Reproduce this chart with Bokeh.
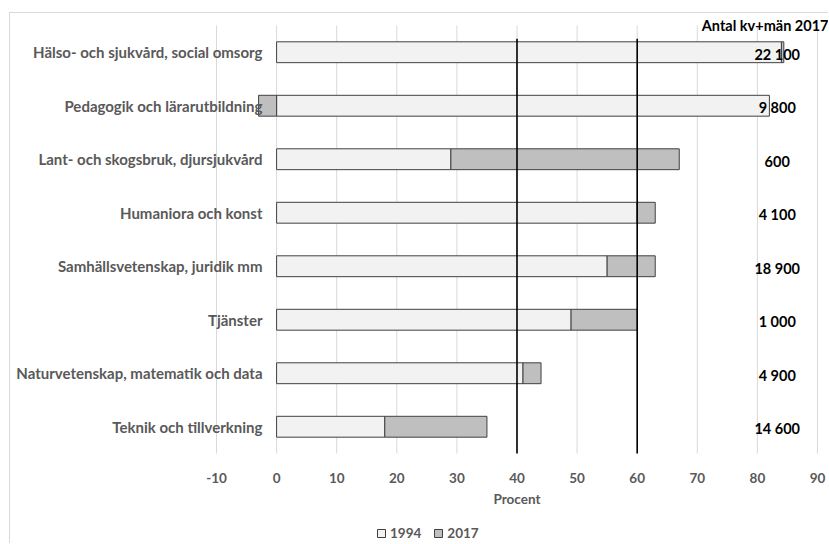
from bokeh.plotting import figure
from bokeh.models import ColumnDataSource, FixedTicker, Legend, LegendItem, Range1d
from bokeh.embed import file_html
from bokeh.resources import INLINE
from bokeh.core.properties import value

# ---- data ----
categories = [
    "Hälso- och sjukvård, social omsorg",
    "Pedagogik och lärarutbildning",
    "Lant- och skogsbruk, djursjukvård",
    "Humaniora och konst",
    "Samhällsvetenskap, juridik mm",
    "Tjänster",
    "Naturvetenskap, matematik och data",
    "Teknik och tillverkning",
]
share_1994 = [84, 82, 29, 60, 55, 49, 41, 18]          # procent 1994
change_2017 = [0.4, -3, 38, 3, 8, 11, 3, 17]            # förändring till 2017
count_2017 = ["22 100", "9 800", "600", "4 100", "18 900", "1 000", "4 900", "14 600"]
ref_lines = [40, 60]
x_ticks = [-10, 0, 10, 20, 30, 40, 50, 60, 70, 80, 90]
x_tick_labels = [str(t) for t in x_ticks]
x_title = "Procent"
header = "Antal kv+män 2017"
series_names = ["1994", "2017"]

FONT = "Lato"
GRAY = "#595959"

n = len(categories)
ypos = [n - 0.5 - i for i in range(n)]
left17 = [s if c >= 0 else c for s, c in zip(share_1994, change_2017)]
right17 = [s + c if c >= 0 else 0 for s, c in zip(share_1994, change_2017)]

src = ColumnDataSource(dict(y=ypos, v94=share_1994, l17=left17, r17=right17,
                            count=count_2017))

# frame spans the whole drawing area; value axis is drawn inside it
p = figure(width=819, height=531,
           x_range=Range1d(-13.33, 92.0), y_range=Range1d(-1.701, n + 0.224),
           output_backend="svg", toolbar_location=None, x_axis_location=None,
           min_border_left=186, min_border_right=0, min_border_top=0,
           min_border_bottom=0)
p.styles = {"border-left": "1px solid #D9D9D9", "border-top": "1px solid #D9D9D9",
            "margin-top": "12px", "margin-left": "9px"}
p.outline_line_color = None
p.background_fill_color = "white"
p.border_fill_color = "white"
p.xgrid.visible = False
p.ygrid.visible = False

ya = p.yaxis[0]
ya.ticker = FixedTicker(ticks=ypos)
ya.major_label_overrides = {y: c for y, c in zip(ypos, categories)}
ya.axis_line_color = None
ya.major_tick_line_color = None
ya.minor_tick_line_color = None
ya.major_label_text_font = FONT
ya.major_label_text_font_style = "bold"
ya.major_label_text_font_size = "15px"
ya.major_label_text_color = GRAY
ya.major_label_standoff = -72

# vertical grid lines at the value ticks
p.segment(x0=x_ticks, y0=[0] * len(x_ticks), x1=x_ticks, y1=[n] * len(x_ticks),
          line_color="#D9D9D9", line_width=1)

bar_h = 0.39
r94 = p.hbar(y="y", left=0, right="v94", height=bar_h, source=src,
             fill_color="#F2F2F2", line_color="#404040", line_width=1)
r17 = p.hbar(y="y", left="l17", right="r17", height=bar_h, source=src,
             fill_color="#BFBFBF", line_color="#404040", line_width=1)

p.segment(x0=ref_lines, y0=[0] * len(ref_lines), x1=ref_lines,
          y1=[n - 0.25] * len(ref_lines), line_color="black", line_width=1.6)

# value-axis tick labels and title
p.text(x=x_ticks, y=[0] * len(x_ticks), text=x_tick_labels, text_font=value(FONT),
       text_font_style="bold", text_font_size="13.5px", text_color=GRAY,
       text_align="center", text_baseline="middle", y_offset=25)
p.text(x=[(x_ticks[0] + x_ticks[-1]) / 2], y=[0], text=[x_title], text_font=value(FONT),
       text_font_style="bold", text_font_size="13.5px", text_color=GRAY,
       text_align="center", text_baseline="middle", y_offset=46)

# counts column and its header
p.text(x=83.3, y="y", text="count", source=src, text_font=value(FONT),
       text_font_style="bold", text_font_size="14.5px", text_color="black",
       text_align="center", text_baseline="middle", y_offset=2)
p.text(x=[x_ticks[-1]], y=[n], text=[header], text_font=value(FONT),
       text_font_style="bold", text_font_size="14.5px", text_color="black",
       text_align="right", text_baseline="middle", x_offset=11, y_offset=0)

legend = Legend(items=[LegendItem(label=series_names[0], renderers=[r94]),
                       LegendItem(label=series_names[1], renderers=[r17])],
                orientation="horizontal", location=(180, 3),
                glyph_width=10, glyph_height=10, label_standoff=4, spacing=12,
                padding=0, margin=0, label_height=16,
                border_line_color=None, background_fill_alpha=0,
                label_text_font=FONT, label_text_font_style="bold",
                label_text_font_size="13.5px", label_text_color=GRAY)
p.add_layout(legend)

open("out.html", "w").write(file_html(p, INLINE))
